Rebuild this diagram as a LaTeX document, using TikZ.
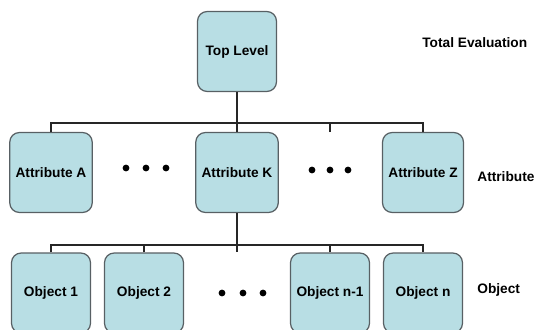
\documentclass[tikz,border=0pt]{standalone}
\usepackage{fontspec}
\setmainfont{Liberation Sans}
\definecolor{boxblue}{RGB}{184,222,228}
\definecolor{boxedge}{RGB}{88,96,100}
\begin{document}
\begin{tikzpicture}[x=0.02cm, y=-0.02cm,
        box/.style={draw=boxedge, fill=boxblue, line width=0.7pt, rounded corners=5.5pt,
            minimum width=1.58cm, minimum height=1.6cm, font=\bfseries\fontsize{7.8}{9}\selectfont},
        levelname/.style={anchor=west, inner sep=0pt, font=\bfseries\fontsize{7.8}{9}\selectfont},
        link/.style={line width=1.1pt, black!85}]
        % Page frame
        \useasboundingbox (0,0) rectangle (537,329);
        \clip (0,0) rectangle (537,329);
        
        % Boxes of the three levels
        \node[box] (top) at (237,51.5) {Top Level};
        \node[box] (attA) at (51,172.5) {Attribute A};
        \node[box] (attK) at (237,172.5) {Attribute K};
        \node[box] (attZ) at (423,172.5) {Attribute Z};
        \node[box] (obj1) at (51,293) {Object 1};
        \node[box] (obj2) at (144,293) {Object 2};
        \node[box] (objm) at (330,293) {Object n-1};
        \node[box] (objn) at (423,293) {Object n};
        
        % Level names
        \node[levelname] (lvltop) at (422,43) {Total Evaluation};
        \node[levelname] (lvlatt) at (477,177) {Attribute};
        \node[levelname] (lvlobj) at (477,290) {Object};
        
        % Dots for the boxes left out
        \foreach \x in {126,146,166} \fill (\x,168) circle (3.4);
        \foreach \x in {312,330,348} \fill (\x,170) circle (3.4);
        \foreach \x in {222,243,263} \fill (\x,293) circle (3.4);
        
        % Connectors
        \coordinate (tbar) at (237,123);
        \coordinate (tdots) at (330,132);
        \draw[link] (top) -- (attK);
        \draw[link] (attA.north) |- (tbar) -| (attZ.north);
        \draw[link] (tdots) -- (tdots |- tbar);
        
        \coordinate (bbar) at (237,245);
        \coordinate (bdots) at (237,252);
        \draw[link] (attK) -- (bdots);
        \draw[link] (obj1.north) |- (bbar) -| (objn.north);
        \draw[link] (obj2.north) -- (obj2.north |- bbar);
        \draw[link] (objm.north) -- (objm.north |- bbar);
    \end{tikzpicture}
\end{document}
